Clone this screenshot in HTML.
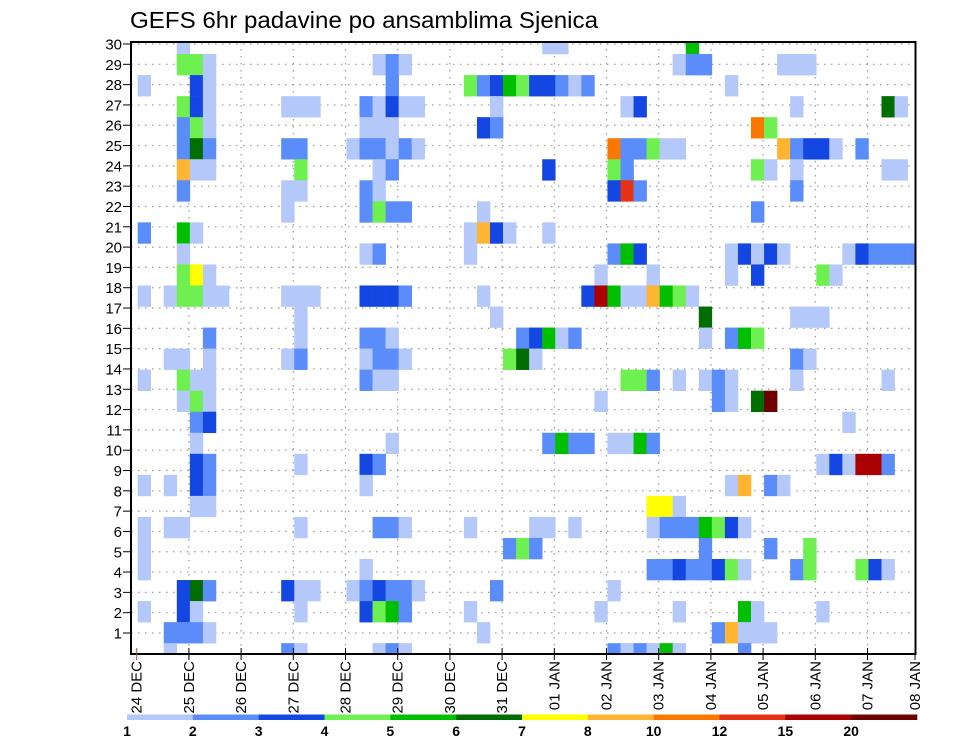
<!DOCTYPE html>
<html><head><meta charset="utf-8">
<style>
html,body{margin:0;padding:0;background:#fff;}
svg{display:block;font-family:"Liberation Sans",sans-serif;}
</style></head>
<body>
<svg id="chart" width="960" height="742" viewBox="0 0 960 742" xmlns="http://www.w3.org/2000/svg">
<text x="130" y="28" font-size="23" textLength="468" lengthAdjust="spacingAndGlyphs" fill="#000">GEFS 6hr padavine po ansamblima Sjenica</text>
<defs><clipPath id="plotclip"><rect x="131" y="42" width="784.5" height="612"/></clipPath></defs>
<g id="grid"></g>
<g id="cells" clip-path="url(#plotclip)"></g>
<rect x="131" y="42" width="784.5" height="612" fill="none" stroke="#000" stroke-width="2"/>
<g id="yaxis"></g>
<g id="xaxis"></g>
<g id="legend"></g>
</svg>
<script>
// Data: each string = one ensemble row (top to bottom), entries "timeIndex:level"
const memberRows = [
"4:1 32:1 33:1 43:5",
"4:4 5:4 6:1 19:1 20:2 21:1 42:1 43:2 44:2 50:1 51:1 52:1",
"1:1 5:3 6:1 20:2 26:4 27:2 28:3 29:5 30:4 31:3 32:3 33:2 34:1 35:2 46:1",
"4:4 5:3 6:1 12:1 13:1 14:1 18:2 19:1 20:3 21:1 22:1 28:1 38:1 39:3 51:1 58:6 59:1",
"4:2 5:4 6:1 18:1 19:1 20:1 27:3 28:2 48:9 49:4",
"4:2 5:6 6:2 12:2 13:2 17:1 18:2 19:2 20:1 21:2 22:1 37:9 38:2 39:2 40:4 41:1 42:1 50:8 51:2 52:3 53:3 54:1 56:2",
"4:8 5:1 6:1 13:4 19:1 20:2 32:3 37:4 38:2 48:4 49:1 51:1 58:1 59:1",
"4:2 12:1 13:1 18:2 19:1 37:3 38:10 39:2 51:2",
"12:1 18:2 19:4 20:2 21:2 27:1 48:2",
"1:2 4:5 5:1 26:1 27:8 28:3 29:1 32:1",
"4:1 18:1 19:2 26:1 37:2 38:5 39:3 46:1 47:3 48:1 49:3 50:1 55:1 56:3 57:2 58:2 59:2 60:2",
"4:4 5:7 6:1 36:1 40:1 46:1 48:3 53:4 54:1",
"1:1 3:1 4:4 5:4 6:1 7:1 12:1 13:1 14:1 18:3 19:3 20:3 21:2 27:1 35:3 36:11 37:5 38:1 39:1 40:8 41:5 42:4 43:1",
"13:1 28:1 44:6 51:1 52:1 53:1",
"6:2 13:1 18:2 19:2 20:1 30:2 31:3 32:5 33:1 34:2 44:1 46:2 47:5 48:4",
"3:1 4:1 6:1 12:1 13:2 18:1 19:2 20:2 21:1 29:4 30:6 31:1 51:2 52:1",
"1:1 4:4 5:1 6:1 18:2 19:1 20:1 38:4 39:4 40:2 42:1 44:1 45:2 46:1 51:1 58:1",
"4:1 5:4 6:1 36:1 45:2 46:1 48:6 49:12",
"5:2 6:3 55:1",
"5:1 20:1 32:2 33:5 34:2 35:2 37:1 38:1 39:5 40:2",
"5:3 6:2 13:1 18:3 19:2 53:1 54:3 55:1 56:11 57:11 58:2",
"1:1 3:1 5:3 6:2 18:1 46:1 47:8 49:2 50:1",
"5:1 6:1 40:7 41:7 42:1",
"1:1 3:1 4:1 13:1 19:2 20:2 21:1 26:1 31:1 32:1 34:1 40:1 41:2 42:2 43:2 44:5 45:4 46:3 47:1",
"1:1 29:2 30:4 31:2 44:2 49:2 52:4",
"1:1 18:1 40:2 41:2 42:3 43:2 44:2 45:3 46:4 47:1 51:2 52:4 56:4 57:3 58:1",
"4:3 5:6 6:2 12:3 13:1 14:1 17:1 18:2 19:3 20:2 21:2 22:1 28:2 37:1",
"1:1 4:3 5:1 13:1 18:3 19:4 20:5 21:2 26:1 36:1 42:1 47:5 48:1 53:1",
"3:2 4:2 5:2 6:1 27:1 45:2 46:8 47:1 48:1 49:1",
"3:1 12:2 13:1 19:1 20:2 21:1 37:2 38:1 39:2 40:1 41:5 42:1 47:2"
];
const levelColors = ["#ffffff","#b4c8fa","#5a8cfa","#1446e1","#6ef050","#00be00","#006e00","#ffff00","#ffb432","#fa7800","#e63214","#aa0000","#6e0000"];
const legendLabels = ["1","2","3","4","5","6","7","8","10","12","15","20"];
const rowLabels = [30,29,28,27,26,25,24,23,22,21,20,19,18,17,16,15,14,13,12,11,10,9,8,7,6,5,4,3,2,1];
const dateLabels = ["24 DEC","25 DEC","26 DEC","27 DEC","28 DEC","29 DEC","30 DEC","31 DEC","01 JAN","02 JAN","03 JAN","04 JAN","05 JAN","06 JAN","07 JAN","08 JAN"];

const NS="http://www.w3.org/2000/svg";
function mk(tag,attrs,parent){const e=document.createElementNS(NS,tag);for(const k in attrs)e.setAttribute(k,attrs[k]);parent.appendChild(e);return e;}
const colW=13.05, rowH=21.04;
function xCell(c){return 124.6+colW*c;}
function yCell(j){return 33+rowH*j;}
function yRow(r){return 44+(30-r)*20.31;}
function xDate(d){return d===15?915:136.7+52.2*d;}

const grid=document.getElementById('grid');
rowLabels.forEach(r=>{
  const l=mk('line',{x1:131,x2:915,y1:yRow(r),y2:yRow(r),stroke:'#999','stroke-width':1.2,'stroke-dasharray':'1.5,5.5'},grid);
  
  
});
dateLabels.forEach((d,i)=>{
  if(i===0||i===15)return;
  const l=mk('line',{x1:xDate(i),x2:xDate(i),y1:42,y2:654,stroke:'#999','stroke-width':1.2,'stroke-dasharray':'1.5,5.5'},grid);
  
  
});

const cells=document.getElementById('cells');
memberRows.forEach((row,j)=>{
  row.split(' ').forEach(p=>{
    const [c,lv]=p.split(':').map(Number);
    const r=mk('rect',{x:xCell(c),y:yCell(j),width:colW+0.3,height:rowH+0.3,fill:levelColors[lv]},cells);
    
    
  });
});

const yaxis=document.getElementById('yaxis');
rowLabels.forEach(r=>{
  const y=yRow(r);
  const t=mk('line',{x1:123,x2:131,y1:y,y2:y,stroke:'#000','stroke-width':1},yaxis);
  
  
  const tx=mk('text',{x:122,y:y+5.5,'text-anchor':'end','font-size':15,fill:'#000'},yaxis);
  tx.textContent=r;
  
  
});

const xaxis=document.getElementById('xaxis');
dateLabels.forEach((d,i)=>{
  const x=xDate(i);
  const t=mk('line',{x1:x,x2:x,y1:648,y2:660,stroke:i===0?'#c44':'#000','stroke-width':1},xaxis);
  
  
  const tx=mk('text',{x:0,y:0,'text-anchor':'end','font-size':15,fill:'#000',transform:`translate(${x+5},661) rotate(-90)`},xaxis);
  tx.textContent=d;
  
  
});

const legend=document.getElementById('legend');
const segW=(917-127)/12;
for(let k=0;k<12;k++){
  const r=mk('rect',{x:127+segW*k,y:714.5,width:segW+0.3,height:5.5,fill:levelColors[k+1]},legend);
  
  
  const t=mk('text',{x:127+segW*k,y:736,'text-anchor':'middle','font-size':14,'font-weight':'bold',fill:'#000'},legend);
  t.textContent=legendLabels[k];
  
  
}
</script>
</body></html>
